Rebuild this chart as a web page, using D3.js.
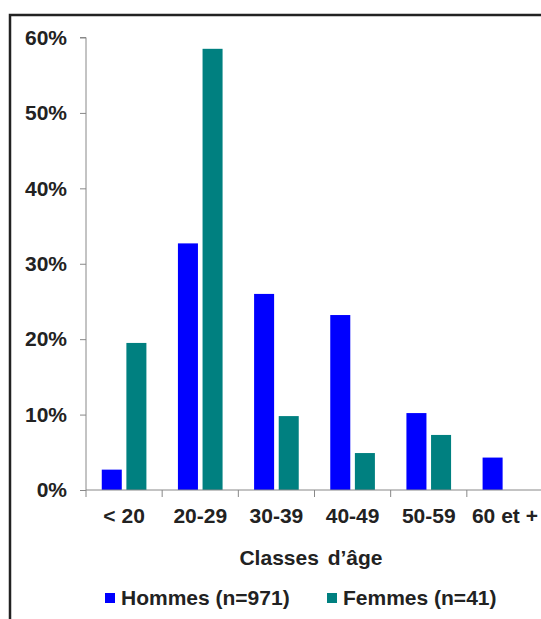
<!DOCTYPE html>
<html>
<head>
<meta charset="utf-8">
<script src="https://cdn.jsdelivr.net/npm/d3@7"></script>
<style>
  body { margin: 0; background: #fff; }
  svg { display: block; }
  text { font-family: "Liberation Sans", Arial, Helvetica, sans-serif; font-weight: bold; fill: #222; }
</style>
</head>
<body>
<div id="chart"></div>
<script>
// données (% par classe d'âge)
var categories = ['< 20', '20-29', '30-39', '40-49', '50-59', '60 et +'];
var series = ['Hommes (n=971)', 'Femmes (n=41)'];
var hommes = [2.7, 32.7, 26.0, 23.2, 10.2, 4.3];
var femmes = [19.5, 58.5, 9.8, 4.9, 7.3, 0];
var yTicks = [0, 10, 20, 30, 40, 50, 60];
var colors = ['#0000ff', '#008080'];

var width = 541, height = 619;
var mLeft = 86, mRight = 543, mTop = 37.5, mBottom = 490;
var fSize = '21px';

var svg = d3.select('#chart').append('svg')
    .attr('width', width)
    .attr('height', height);

// cadre (seuls le haut et la gauche sont visibles)
svg.append('path')
    .attr('d', 'M10,' + height + 'V15H' + width)
    .attr('fill', 'none')
    .attr('stroke', '#222')
    .attr('stroke-width', 2.5);

var x = d3.scaleBand().domain(categories).range([mLeft, mRight]).padding(0);
var xs = d3.scaleBand().domain(series).range([0, x.bandwidth()])
    .paddingInner(0.187).paddingOuter(0.64);
var y = d3.scaleLinear().domain([0, 60]).range([mBottom, mTop]);

var rows = categories.map(function(c, i) {
    return {cat: c, values: [hommes[i], femmes[i]]};
});

// barres
var groups = svg.selectAll('g.grp').data(rows).enter()
    .append('g')
    .attr('class', 'grp')
    .attr('transform', function(d) { return 'translate(' + x(d.cat) + ',0)'; });

groups.selectAll('rect').data(function(d) {
        return d.values.map(function(v, k) { return {s: series[k], v: v, k: k}; });
    }).enter()
    .filter(function(d) { return d.v > 0; })
    .append('rect')
    .attr('x', function(d) { return xs(d.s); })
    .attr('width', xs.bandwidth())
    .attr('y', function(d) { return y(d.v); })
    .attr('height', function(d) { return mBottom - y(d.v); })
    .attr('fill', function(d) { return colors[d.k]; });

// axe Y
var yAxis = svg.append('g')
    .attr('transform', 'translate(' + mLeft + ',0)')
    .call(d3.axisLeft(y).tickValues(yTicks).tickSize(6).tickPadding(13)
        .tickFormat(function(d) { return d + '%'; }));
yAxis.select('.domain').attr('stroke', '#888').attr('d', 'M-6,' + mTop + 'H0V' + (mBottom + 7));
yAxis.selectAll('line').attr('stroke', '#888');
yAxis.selectAll('text').attr('font-size', fSize).attr('fill', '#222');

// axe X : libellés au centre, graduations aux limites des classes
var xAxis = svg.append('g')
    .attr('transform', 'translate(0,' + mBottom + ')')
    .call(d3.axisBottom(x).tickSize(0));
xAxis.select('.domain').attr('stroke', '#888').attr('d', 'M' + mLeft + ',0H' + mRight);
xAxis.selectAll('text')
    .attr('font-size', fSize)
    .attr('fill', '#222')
    .attr('y', 33)
    .attr('dy', 0);

svg.selectAll('line.xtick').data(categories.slice(1).concat(['end'])).enter()
    .append('line')
    .attr('class', 'xtick')
    .attr('x1', function(d, i) { return mLeft + (i + 1) * x.step(); })
    .attr('x2', function(d, i) { return mLeft + (i + 1) * x.step(); })
    .attr('y1', mBottom)
    .attr('y2', mBottom + 7)
    .attr('stroke', '#888');

// titre de l'axe
svg.append('text')
    .attr('x', 311)
    .attr('y', 565)
    .attr('text-anchor', 'middle')
    .attr('font-size', fSize)
    .attr('word-spacing', '3px')
    .text('Classes d\u2019âge');

// légende
var legX = [105, 327];
var leg = svg.selectAll('g.leg').data(series).enter()
    .append('g')
    .attr('class', 'leg')
    .attr('transform', function(d, i) { return 'translate(' + legX[i] + ',593)'; });
leg.append('rect')
    .attr('width', 10)
    .attr('height', 10)
    .attr('fill', function(d, i) { return colors[i]; });
leg.append('text')
    .attr('x', 16)
    .attr('y', 12)
    .attr('font-size', fSize)
    .text(function(d) { return d; });
</script>
</body>
</html>
